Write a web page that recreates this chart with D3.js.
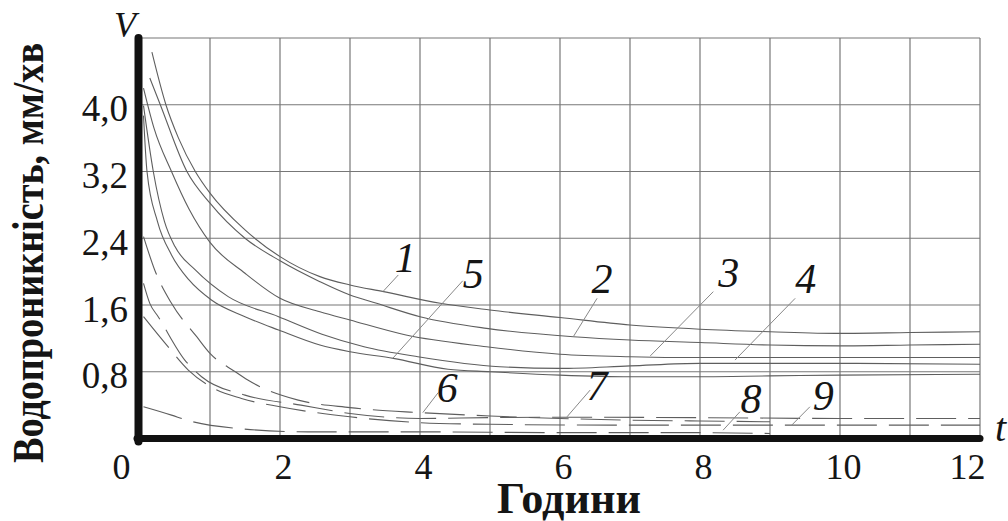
<!DOCTYPE html>
<html>
<head>
<meta charset="utf-8">
<script src="https://cdn.jsdelivr.net/npm/d3@7"></script>
<style>
  body { margin: 0; background: #fff; }
  text { font-family: "Liberation Serif", "Times New Roman", serif; fill: #151515; }
</style>
</head>
<body>
<svg width="1008" height="521"></svg>
<script>
// grid + ticks
var gridHours = [1, 2, 3, 4, 5, 6, 7, 8, 9, 10, 11, 12];
var gridValues = [0.8, 1.6, 2.4, 3.2, 4.0, 4.8];
var xTicks = [0, 2, 4, 6, 8, 10, 12];
var yTicks = [0.8, 1.6, 2.4, 3.2, 4.0];

// curves, [hours, mm/min]
var curve1 = [[0.17,4.63],[0.37,4.0],[0.55,3.6],[0.79,3.2],[1.0,2.94],[1.5,2.5],[2.0,2.18],[2.57,1.94],[3.0,1.84],[3.48,1.76],[4.29,1.62],[5,1.54],[6,1.45],[7,1.36],[8,1.31],[9,1.28],[10,1.26],[11,1.27],[12,1.28]];
var curve2 = [[0.14,4.32],[0.29,4.0],[0.67,3.2],[1.0,2.82],[1.5,2.4],[2.0,2.13],[2.57,1.88],[3.0,1.72],[3.38,1.62],[4.0,1.46],[4.95,1.32],[6.19,1.22],[7,1.18],[8,1.15],[9,1.12],[10,1.11],[11,1.12],[12,1.13]];
var curve3 = [[0.05,4.2],[0.2,3.72],[0.45,3.2],[0.7,2.75],[1.0,2.35],[1.5,1.98],[2.0,1.68],[2.57,1.52],[3.0,1.42],[3.8,1.24],[4.95,1.10],[6,1.01],[7,0.98],[8,0.97],[10,0.97],[12,0.97]];
var curve4 = [[0.05,3.99],[0.19,3.2],[0.35,2.6],[0.5,2.3],[0.79,2.02],[1.26,1.70],[1.98,1.46],[2.6,1.25],[3.2,1.10],[3.97,0.98],[5.14,0.86],[6,0.84],[7,0.87],[8,0.90],[9,0.90],[10,0.90],[12,0.89]];
var curve5 = [[0.05,3.87],[0.1,3.2],[0.25,2.6],[0.45,2.2],[0.7,1.9],[1.02,1.66],[1.5,1.46],[1.98,1.30],[2.57,1.12],[3.0,1.04],[3.62,0.96],[4.4,0.83],[5,0.80],[6,0.76],[7,0.74],[8,0.74],[9,0.75],[10,0.76],[12,0.77]];
var curve6 = [[0.05,2.42],[0.21,2.02],[0.45,1.62],[0.81,1.22],[1.0,1.02],[1.36,0.80],[1.54,0.70],[2.26,0.46],[3,0.37],[4,0.31],[5,0.27],[6,0.24],[7,0.22],[8,0.21],[9,0.20]];
var curve7 = [[0.05,1.86],[0.14,1.62],[0.26,1.46],[0.64,0.94],[0.88,0.74],[1.5,0.52],[2.3,0.40],[3,0.30],[4,0.24],[5,0.25],[6,0.255],[8,0.25],[10,0.24],[12,0.24]];
var curve8 = [[0.05,0.38],[0.45,0.28],[0.67,0.22],[1.4,0.12],[2.4,0.08],[4,0.08],[6,0.07],[8,0.07],[9,0.06]];
var curve9 = [[0.05,1.46],[0.4,1.10],[0.69,0.82],[0.97,0.64],[1.45,0.48],[2,0.38],[3,0.26],[4,0.19],[5,0.17],[7,0.16],[9,0.16],[12,0.16]];

var solidCurves = [curve1, curve2, curve3, curve4, curve5];
var dashedCurves = [curve6, curve7, curve8, curve9];

// curve numbers, where they sit and where their leader points (data units)
var curveNames = ["1", "5", "2", "3", "4", "6", "7", "8", "9"];
var nameAt = [[3.79,2.0],[4.76,1.80],[6.6,1.74],[8.41,1.82],[9.51,1.74],[4.39,0.44],[6.53,0.46],[8.73,0.31],[9.76,0.34]];
var leaderFrom = [[3.69,1.96],[4.61,1.89],[6.53,1.68],[8.19,1.76],[9.36,1.68],[4.26,0.55],[6.43,0.58],[8.57,0.32],[9.57,0.38]];
var leaderTo = [[3.47,1.76],[3.61,0.96],[6.19,1.22],[7.29,0.99],[8.5,0.94],[4.04,0.31],[6.1,0.26],[8.33,0.10],[9.31,0.16]];

var svg = d3.select("svg"),
	margin = {top: 38, right: 28, bottom: 82.5, left: 140},
	width = +svg.attr("width") - margin.left - margin.right,
	height = +svg.attr("height") - margin.top - margin.bottom;

var x = d3.scaleLinear().domain([0, 12]).range([0, width]),
	y = d3.scaleLinear().domain([0, 4.8]).range([height, 0]);

var comma = d3.formatLocale({decimal: ",", thousands: " ", grouping: [3], currency: ["", ""]}).format(".1f");

var g = svg.append("g")
	.attr("transform", "translate(" + margin.left + "," + margin.top + ")");

// grid
g.selectAll(".vgrid")
	.data(gridHours)
	.enter().append("line")
	.attr("x1", function(d) { return x(d); })
	.attr("x2", function(d) { return x(d); })
	.attr("y1", 0)
	.attr("y2", height)
	.style("stroke", "#777")
	.style("stroke-width", 1.2);

g.selectAll(".hgrid")
	.data(gridValues)
	.enter().append("line")
	.attr("x1", 0)
	.attr("x2", width)
	.attr("y1", function(d) { return y(d); })
	.attr("y2", function(d) { return y(d); })
	.style("stroke", "#777")
	.style("stroke-width", 1.2);

var line = d3.line()
	.x(function(d) { return x(d[0]); })
	.y(function(d) { return y(d[1]); })
	.curve(d3.curveMonotoneX);

g.selectAll(".solid")
	.data(solidCurves)
	.enter().append("path")
	.attr("d", line)
	.style("fill", "none")
	.style("stroke", "#5e5e5e")
	.style("stroke-width", 1.1);

g.selectAll(".dashed")
	.data(dashedCurves)
	.enter().append("path")
	.attr("d", line)
	.style("fill", "none")
	.style("stroke", "#5e5e5e")
	.style("stroke-width", 1.1)
	.style("stroke-dasharray", "40,12");

// leaders + numbers
g.selectAll(".leader")
	.data(leaderTo)
	.enter().append("line")
	.attr("x1", function(d, i) { return x(leaderFrom[i][0]); })
	.attr("y1", function(d, i) { return y(leaderFrom[i][1]); })
	.attr("x2", function(d) { return x(d[0]); })
	.attr("y2", function(d) { return y(d[1]); })
	.style("stroke", "#888")
	.style("stroke-width", 1);

g.selectAll(".name")
	.data(curveNames)
	.enter().append("text")
	.text(function(d) { return d; })
	.attr("x", function(d, i) { return x(nameAt[i][0]); })
	.attr("y", function(d, i) { return y(nameAt[i][1]); })
	.style("font-size", "42px")
	.style("font-style", "italic")
	.style("text-anchor", "middle");

// axes
var xAxis = g.append("g")
	.attr("transform", "translate(0," + height + ")")
	.call(d3.axisBottom(x).tickValues(xTicks).tickSize(0).tickFormat(d3.format("d")));

xAxis.select(".domain")
	.attr("d", "M-3,0H" + width)
	.style("stroke", "#111")
	.style("stroke-width", 7)
	.style("stroke-linecap", "round");

xAxis.selectAll("text")
	.attr("y", 40)
	.attr("dy", 0)
	.attr("dx", function(d) { return d == 0 ? -19 : d == 12 ? -13 : 3; })
	.style("font-size", "36px")
	.style("font-family", "Liberation Serif")
	.style("fill", "#151515");

var yAxis = g.append("g")
	.attr("transform", "translate(-1.5,0)")
	.call(d3.axisLeft(y).tickValues(yTicks).tickSize(0).tickFormat(comma));

yAxis.select(".domain")
	.attr("d", "M0," + (height + 3) + "V0")
	.style("stroke", "#111")
	.style("stroke-width", 8)
	.style("stroke-linecap", "round");

yAxis.selectAll("text")
	.attr("x", -10.5)
	.attr("dy", 16)
	.style("font-size", "37px")
	.style("font-family", "Liberation Serif")
	.style("fill", "#151515");

// axis letters + titles
g.append("text")
	.text("V")
	.attr("x", -15)
	.attr("y", -1)
	.style("font-size", "36px")
	.style("font-style", "italic")
	.style("text-anchor", "middle");

g.append("text")
	.text("t")
	.attr("x", width + 15)
	.attr("y", height + 2)
	.style("font-size", "40px")
	.style("font-style", "italic");

svg.append("text")
	.text("Години")
	.attr("x", 569)
	.attr("y", 513)
	.attr("textLength", 144)
	.attr("lengthAdjust", "spacingAndGlyphs")
	.style("font-size", "44px")
	.style("font-weight", "bold")
	.style("text-anchor", "middle");

svg.append("text")
	.text("Водопроникність, мм/хв")
	.attr("transform", "translate(43,253) rotate(-90)")
	.attr("textLength", 420)
	.attr("lengthAdjust", "spacingAndGlyphs")
	.style("font-size", "44px")
	.style("font-weight", "bold")
	.style("text-anchor", "middle");
</script>
</body>
</html>
